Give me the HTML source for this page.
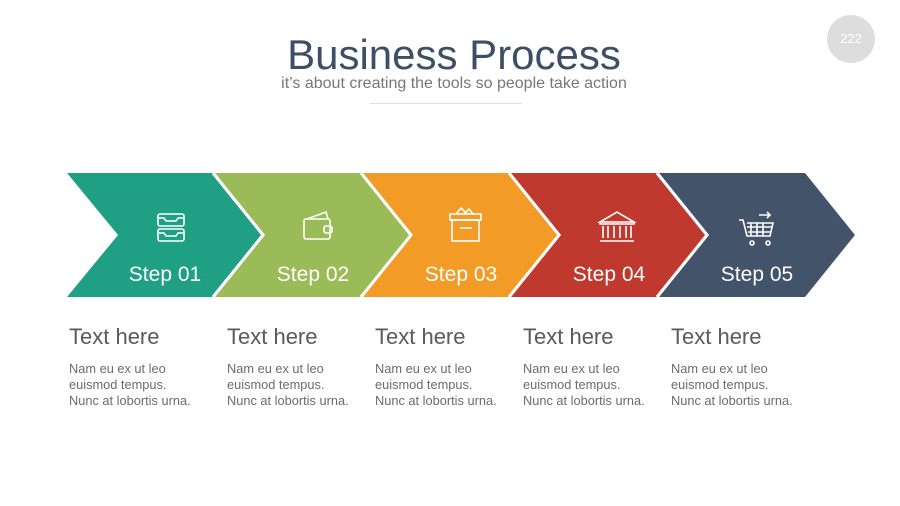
<!DOCTYPE html>
<html><head><meta charset="utf-8"><style>
body{margin:0;width:900px;height:506px;background:#fff;position:relative;overflow:hidden;font-family:"Liberation Sans",sans-serif}
.t{position:absolute;white-space:nowrap}
.h{font-size:22px;color:#5a5a5a;top:324px}
.b{font-size:12.8px;color:#6b6b6b;line-height:16px;top:361px}
</style></head><body>
<div class="t" style="left:0;width:908px;text-align:center;top:31px;font-size:42px;color:#3d4f66">Business Process</div>
<div class="t" style="left:0;width:908px;text-align:center;top:75px;font-size:16px;color:#777">it’s about creating the tools so people take action</div>
<div style="position:absolute;left:370px;top:103px;width:152px;height:1px;background:#ddd"></div>
<div style="position:absolute;left:827px;top:15px;width:48px;height:48px;border-radius:50%;background:#ddd;color:#fff;font-size:13px;text-align:center;line-height:48px">222</div>
<svg width="900" height="506" style="position:absolute;left:0;top:0" font-family="Liberation Sans">
<polygon points="659,173 805,173 855,235 805,297 659,297 709,235" fill="#435369"/>
<polygon points="511,173 657,173 707,235 657,297 511,297 561,235" fill="#c0392f"/>
<polygon points="363,173 509,173 559,235 509,297 363,297 413,235" fill="#f29b26"/>
<polygon points="215,173 361,173 411,235 361,297 215,297 265,235" fill="#9bbb59"/>
<polygon points="67,173 213,173 263,235 213,297 67,297 118,235" fill="#1fa085"/>
<g stroke="#fff" stroke-width="3" fill="none">
<polyline points="213,173 263,235 213,297"/><polyline points="361,173 411,235 361,297"/><polyline points="509,173 559,235 509,297"/><polyline points="657,173 707,235 657,297"/>
</g>
<g fill="#fff" font-size="21" text-anchor="middle">
<text x="165" y="281">Step 01</text><text x="313" y="281">Step 02</text><text x="461" y="281">Step 03</text><text x="609" y="281">Step 04</text><text x="757" y="281">Step 05</text>
</g>
<g fill="none" stroke="#fff" stroke-width="1.6">
<rect x="158" y="214" width="26" height="12" rx="2"/><rect x="158" y="229" width="26" height="12" rx="2"/>
<path d="M158 218h6l2 3h10l2-3h6M158 233h6l2 3h10l2-3h6"/>
<rect x="304" y="219" width="26" height="20" rx="2"/><path d="M307 219l19-7 2 7"/><rect x="324" y="226" width="8" height="7" rx="2"/>
<rect x="450" y="214" width="31" height="6"/><rect x="452" y="220" width="27" height="21"/><path d="M460 228h12M456 214l5-6 6 6M464 214l5-5 4 5"/>
<path d="M600 222l17-10 17 10zM600 222v2h34v-2M603 226v12M608 226v12M614 226v12M620 226v12M626 226v12M631 226v12M600 241h34"/>
<path d="M739 220h4l4 16h23l3-13h-26M751 223v13M757 223v13M763 223v13M747 227h25M748 232h23M759 215h11M767 212l3 3-3 3"/>
<circle cx="752" cy="243" r="2"/><circle cx="768" cy="243" r="2"/>
</g>
</svg>
<div class="t h" style="left:69px">Text here</div><div class="t h" style="left:227px">Text here</div><div class="t h" style="left:375px">Text here</div><div class="t h" style="left:523px">Text here</div><div class="t h" style="left:671px">Text here</div>
<div class="t b" style="left:69px">Nam eu ex ut leo<br>euismod tempus.<br>Nunc at lobortis urna.</div>
<div class="t b" style="left:227px">Nam eu ex ut leo<br>euismod tempus.<br>Nunc at lobortis urna.</div>
<div class="t b" style="left:375px">Nam eu ex ut leo<br>euismod tempus.<br>Nunc at lobortis urna.</div>
<div class="t b" style="left:523px">Nam eu ex ut leo<br>euismod tempus.<br>Nunc at lobortis urna.</div>
<div class="t b" style="left:671px">Nam eu ex ut leo<br>euismod tempus.<br>Nunc at lobortis urna.</div>
</body></html>
